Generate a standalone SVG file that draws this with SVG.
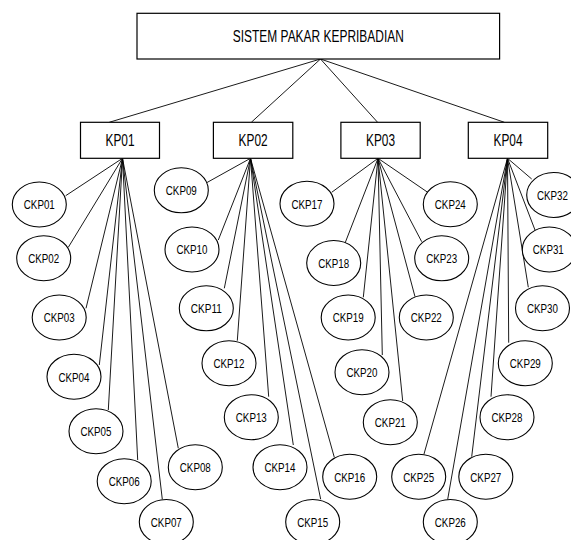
<svg xmlns="http://www.w3.org/2000/svg" width="571" height="540" viewBox="0 0 571 540">
<style>
.bx{fill:#fff;stroke:#000;stroke-width:1.2}
.el{fill:#fff;stroke:#000;stroke-width:1.1}
.ln{stroke:#000;stroke-width:0.9;fill:none}
.tb{font-family:"Liberation Sans",Arial,sans-serif;font-size:16px;text-anchor:middle;fill:#000}
.tc{font-family:"Liberation Sans",Arial,sans-serif;font-size:13.5px;text-anchor:middle;fill:#000}
</style>
<rect width="571" height="540" fill="#fff"/>
<g id="connectors">
<path class="ln" d="M320.5 59L109.2 122.3M320.5 59L251.3 122.3M320.5 59L377.6 122.3M320.5 59L504.4 122.3"/>
<path class="ln" d="M122.5 158.3L65.7 195.7M122.5 158.3L68.3 247.3M122.5 158.3L86 308.3M122.5 158.3L99.3 365M122.5 158.3L108.3 410M122.5 158.3L137.7 460M122.5 158.3L162.3 499.3M122.5 158.3L178.3 448.3"/>
<path class="ln" d="M250.5 158.3L206.7 182.7M250.5 158.3L218.3 240M250.5 158.3L224.3 288.3M250.5 158.3L237.3 340.7M250.5 158.3L268.7 396.7M250.5 158.3L293.3 445M250.5 158.3L320.7 499.3M250.5 158.3L334.3 457.3"/>
<path class="ln" d="M378 158.3L331.7 192.3M378 158.3L344.3 245M378 158.3L363.3 297.3M378 158.3L382.3 355M378 158.3L402.7 401M378 158.3L415 296.7M378 158.3L421.7 241.7M378 158.3L427.7 192.3"/>
<path class="ln" d="M507.5 158.3L424 454M507.5 158.3L447.7 499.3M507.5 158.3L471.7 456.7M507.5 158.3L491 396.7M507.5 158.3L508.7 342.7M507.5 158.3L528.3 287.3M507.5 158.3L535 230M507.5 158.3L531.7 179"/>
</g>
<g id="root"><rect class="bx" x="137" y="13.3" width="362.6" height="45.7"/><text class="tb" x="318.3" y="41.8" textLength="171" lengthAdjust="spacingAndGlyphs">SISTEM PAKAR KEPRIBADIAN</text></g>
<g id="KP01"><rect class="bx" x="80.5" y="122.3" width="79" height="36"/><text class="tb" x="120" y="146.2" textLength="29" lengthAdjust="spacingAndGlyphs">KP01</text></g>
<g id="KP02"><rect class="bx" x="213.4" y="122.3" width="79.4" height="36"/><text class="tb" x="253.1" y="146.2" textLength="29" lengthAdjust="spacingAndGlyphs">KP02</text></g>
<g id="KP03"><rect class="bx" x="340.9" y="122.3" width="79.3" height="36"/><text class="tb" x="380.5" y="146.2" textLength="29" lengthAdjust="spacingAndGlyphs">KP03</text></g>
<g id="KP04"><rect class="bx" x="468.3" y="122.3" width="79.4" height="36"/><text class="tb" x="508" y="146.2" textLength="29" lengthAdjust="spacingAndGlyphs">KP04</text></g>
<g id="CKP01"><ellipse class="el" cx="39.3" cy="204.5" rx="27" ry="22.5"/><text class="tc" x="39.3" y="209.3" textLength="31" lengthAdjust="spacingAndGlyphs">CKP01</text></g>
<g id="CKP02"><ellipse class="el" cx="43.7" cy="258.2" rx="27" ry="22.5"/><text class="tc" x="43.7" y="263" textLength="31" lengthAdjust="spacingAndGlyphs">CKP02</text></g>
<g id="CKP03"><ellipse class="el" cx="59.2" cy="317.5" rx="27" ry="22.5"/><text class="tc" x="59.2" y="322.3" textLength="31" lengthAdjust="spacingAndGlyphs">CKP03</text></g>
<g id="CKP04"><ellipse class="el" cx="74" cy="376.7" rx="27" ry="22.5"/><text class="tc" x="74" y="381.5" textLength="31" lengthAdjust="spacingAndGlyphs">CKP04</text></g>
<g id="CKP05"><ellipse class="el" cx="96" cy="431.2" rx="27" ry="22.5"/><text class="tc" x="96" y="436" textLength="31" lengthAdjust="spacingAndGlyphs">CKP05</text></g>
<g id="CKP06"><ellipse class="el" cx="124.2" cy="481.2" rx="27" ry="22.5"/><text class="tc" x="124.2" y="486" textLength="31" lengthAdjust="spacingAndGlyphs">CKP06</text></g>
<g id="CKP07"><ellipse class="el" cx="166.3" cy="522" rx="27" ry="22.5"/><text class="tc" x="166.3" y="526.8" textLength="31" lengthAdjust="spacingAndGlyphs">CKP07</text></g>
<g id="CKP08"><ellipse class="el" cx="195.3" cy="467.2" rx="27" ry="22.5"/><text class="tc" x="195.3" y="472" textLength="31" lengthAdjust="spacingAndGlyphs">CKP08</text></g>
<g id="CKP09"><ellipse class="el" cx="181.3" cy="190.3" rx="27" ry="22.5"/><text class="tc" x="181.3" y="195.1" textLength="31" lengthAdjust="spacingAndGlyphs">CKP09</text></g>
<g id="CKP10"><ellipse class="el" cx="192" cy="249.5" rx="27" ry="22.5"/><text class="tc" x="192" y="254.3" textLength="31" lengthAdjust="spacingAndGlyphs">CKP10</text></g>
<g id="CKP11"><ellipse class="el" cx="206.3" cy="308.3" rx="27" ry="22.5"/><text class="tc" x="206.3" y="313.1" textLength="31" lengthAdjust="spacingAndGlyphs">CKP11</text></g>
<g id="CKP12"><ellipse class="el" cx="229" cy="363.2" rx="27" ry="22.5"/><text class="tc" x="229" y="368" textLength="31" lengthAdjust="spacingAndGlyphs">CKP12</text></g>
<g id="CKP13"><ellipse class="el" cx="251.3" cy="417.2" rx="27" ry="22.5"/><text class="tc" x="251.3" y="422" textLength="31" lengthAdjust="spacingAndGlyphs">CKP13</text></g>
<g id="CKP14"><ellipse class="el" cx="280" cy="467.2" rx="27" ry="22.5"/><text class="tc" x="280" y="472" textLength="31" lengthAdjust="spacingAndGlyphs">CKP14</text></g>
<g id="CKP15"><ellipse class="el" cx="312.7" cy="522" rx="27" ry="22.5"/><text class="tc" x="312.7" y="526.8" textLength="31" lengthAdjust="spacingAndGlyphs">CKP15</text></g>
<g id="CKP16"><ellipse class="el" cx="349.7" cy="476.7" rx="27" ry="22.5"/><text class="tc" x="349.7" y="481.5" textLength="31" lengthAdjust="spacingAndGlyphs">CKP16</text></g>
<g id="CKP17"><ellipse class="el" cx="307" cy="203.7" rx="27" ry="22.5"/><text class="tc" x="307" y="208.5" textLength="31" lengthAdjust="spacingAndGlyphs">CKP17</text></g>
<g id="CKP18"><ellipse class="el" cx="333.7" cy="263" rx="27" ry="22.5"/><text class="tc" x="333.7" y="267.8" textLength="31" lengthAdjust="spacingAndGlyphs">CKP18</text></g>
<g id="CKP19"><ellipse class="el" cx="348.2" cy="317.5" rx="27" ry="22.5"/><text class="tc" x="348.2" y="322.3" textLength="31" lengthAdjust="spacingAndGlyphs">CKP19</text></g>
<g id="CKP20"><ellipse class="el" cx="362" cy="372.2" rx="27" ry="22.5"/><text class="tc" x="362" y="377" textLength="31" lengthAdjust="spacingAndGlyphs">CKP20</text></g>
<g id="CKP21"><ellipse class="el" cx="390.3" cy="422.2" rx="27" ry="22.5"/><text class="tc" x="390.3" y="427" textLength="31" lengthAdjust="spacingAndGlyphs">CKP21</text></g>
<g id="CKP22"><ellipse class="el" cx="426.3" cy="317.5" rx="27" ry="22.5"/><text class="tc" x="426.3" y="322.3" textLength="31" lengthAdjust="spacingAndGlyphs">CKP22</text></g>
<g id="CKP23"><ellipse class="el" cx="441.7" cy="258.3" rx="27" ry="22.5"/><text class="tc" x="441.7" y="263.1" textLength="31" lengthAdjust="spacingAndGlyphs">CKP23</text></g>
<g id="CKP24"><ellipse class="el" cx="450.3" cy="204.2" rx="27" ry="22.5"/><text class="tc" x="450.3" y="209" textLength="31" lengthAdjust="spacingAndGlyphs">CKP24</text></g>
<g id="CKP25"><ellipse class="el" cx="418.7" cy="476.7" rx="27" ry="22.5"/><text class="tc" x="418.7" y="481.5" textLength="31" lengthAdjust="spacingAndGlyphs">CKP25</text></g>
<g id="CKP26"><ellipse class="el" cx="450.3" cy="522" rx="27" ry="22.5"/><text class="tc" x="450.3" y="526.8" textLength="31" lengthAdjust="spacingAndGlyphs">CKP26</text></g>
<g id="CKP27"><ellipse class="el" cx="485.8" cy="476.7" rx="27" ry="22.5"/><text class="tc" x="485.8" y="481.5" textLength="31" lengthAdjust="spacingAndGlyphs">CKP27</text></g>
<g id="CKP28"><ellipse class="el" cx="507" cy="417.2" rx="27" ry="22.5"/><text class="tc" x="507" y="422" textLength="31" lengthAdjust="spacingAndGlyphs">CKP28</text></g>
<g id="CKP29"><ellipse class="el" cx="525.3" cy="363.2" rx="27" ry="22.5"/><text class="tc" x="525.3" y="368" textLength="31" lengthAdjust="spacingAndGlyphs">CKP29</text></g>
<g id="CKP30"><ellipse class="el" cx="542.5" cy="308.2" rx="27" ry="22.5"/><text class="tc" x="542.5" y="313" textLength="31" lengthAdjust="spacingAndGlyphs">CKP30</text></g>
<g id="CKP31"><ellipse class="el" cx="549.3" cy="249.5" rx="27" ry="22.5"/><text class="tc" transform="translate(548.3 254.3) scale(0.725 1)" x="0" y="0">CKP31</text></g>
<g id="CKP32"><ellipse class="el" cx="553.7" cy="195" rx="27" ry="22.5"/><text class="tc" transform="translate(552.5 199.8) scale(0.725 1)" x="0" y="0">CKP32</text></g>
</svg>
